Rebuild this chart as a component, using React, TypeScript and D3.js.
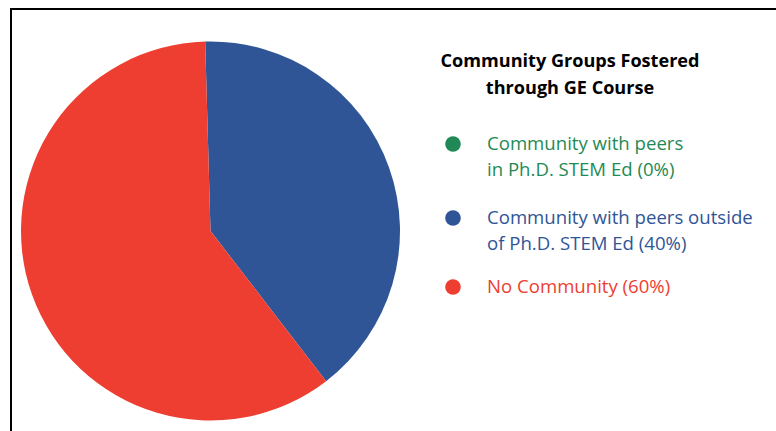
import React from "react";
import * as d3 from "d3";

const categories = [
  "Community with peers in Ph.D. STEM Ed (0%)",
  "Community with peers outside of Ph.D. STEM Ed (40%)",
  "No Community (60%)",
];
const values = [0, 40, 60];
const legendLines = [
  ["Community with peers", "in Ph.D. STEM Ed (0%)"],
  ["Community with peers outside", "of Ph.D. STEM Ed (40%)"],
  ["No Community (60%)"],
];
const colors = ["#1F8A55", "#2F5597", "#EE3E31"];
const titleLines = ["Community Groups Fostered", "through GE Course"];

export default function App() {
  const W = 776, H = 431;
  const cx = 210.5, cy = 231, r = 189.5;
  const start = -0.028;
  const pie = d3
    .pie<number>()
    .sort(null)
    .startAngle(start)
    .endAngle(start + Math.PI * 2)
    .value((d) => d);
  const arcs = pie(values);
  const arc = d3.arc<d3.PieArcDatum<number>>().innerRadius(0).outerRadius(r);
  const legendY = [144, 218, 287];
  const font = "'Open Sans', sans-serif";
  return (
    <svg
      width={W}
      height={H}
      style={{ position: "absolute", left: 0, top: 0, background: "#fff" }}
    >
      <rect x={0} y={0} width={W} height={H} fill="#fff" />
      <path d={`M11,${H} L11,9 L${W},9`} fill="none" stroke="#000" strokeWidth={2} />
      <g transform={`translate(${cx},${cy})`}>
        {arcs.map((a, i) =>
          a.value > 0 ? <path key={i} d={arc(a) || ""} fill={colors[i]} /> : null
        )}
      </g>
      <g fontFamily={font}>
        {titleLines.map((t, i) => (
          <text
            key={i}
            x={570}
            y={67 + i * 27}
            textAnchor="middle"
            fontWeight="bold"
            fontSize={18.1}
            fill="#000"
          >
            {t}
          </text>
        ))}
        {categories.map((c, i) => (
          <g key={c}>
            <circle cx={453} cy={legendY[i]} r={7.8} fill={colors[i]} />
            {legendLines[i].map((l, j) => (
              <text
                key={j}
                x={487}
                y={legendY[i] + 6 + j * 25.5}
                fontSize={18.6}
                fill={colors[i]}
              >
                {l}
              </text>
            ))}
          </g>
        ))}
      </g>
    </svg>
  );
}
